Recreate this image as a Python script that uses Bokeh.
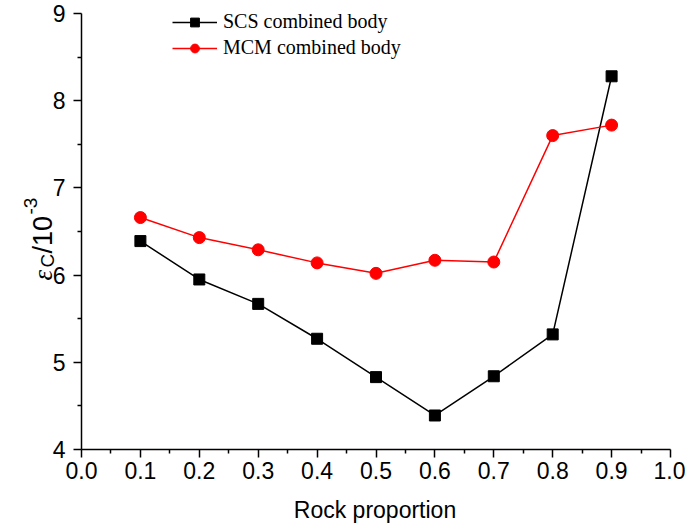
import math
from bokeh.plotting import figure
from bokeh.models import Range1d, FixedTicker, Legend, LegendItem, Label
from bokeh.embed import file_html
from bokeh.resources import INLINE

rock_proportion = [0.1, 0.2, 0.3, 0.4, 0.5, 0.6, 0.7, 0.8, 0.9]
scs_combined = [6.39, 5.95, 5.67, 5.27, 4.83, 4.39, 4.84, 5.32, 8.28]
mcm_combined = [6.66, 6.43, 6.29, 6.14, 6.02, 6.17, 6.15, 7.60, 7.72]

x_ticks = [0.0, 0.1, 0.2, 0.3, 0.4, 0.5, 0.6, 0.7, 0.8, 0.9, 1.0]
x_tick_labels = ["0.0", "0.1", "0.2", "0.3", "0.4", "0.5", "0.6", "0.7", "0.8", "0.9", "1.0"]
x_minor = [0.05, 0.15, 0.25, 0.35, 0.45, 0.55, 0.65, 0.75, 0.85, 0.95]
y_ticks = [4, 5, 6, 7, 8, 9]
y_tick_labels = ["4", "5", "6", "7", "8", "9"]
y_minor = [4.5, 5.5, 6.5, 7.5, 8.5]

series_names = ["SCS combined body", "MCM combined body"]
x_title = "Rock proportion"

W, H = 685, 525
AX_L, AX_R, AX_T, AX_B = 81, 670, 13, 449   # where x=0..1 and y=4..9 sit, in pixels
px_x = (AX_R - AX_L) / 1.0
px_y = (AX_B - AX_T) / 5.0

# the frame covers the whole canvas so that every text can live inside it
p = figure(width=W, height=H, output_backend="svg", toolbar_location=None,
           x_range=Range1d(-AX_L / px_x, 1.0 + (W - AX_R) / px_x),
           y_range=Range1d(4 - (H - AX_B) / px_y, 9 + AX_T / px_y),
           min_border_left=0, min_border_right=0,
           min_border_top=0, min_border_bottom=0)
p.outline_line_color = None
p.grid.visible = False
p.background_fill_color = "white"
p.border_fill_color = "white"

p.yaxis.fixed_location = 0
p.xaxis.fixed_location = 4
p.xaxis.bounds = (0, 1.0)
p.yaxis.bounds = (4, 9)

p.xaxis.ticker = FixedTicker(ticks=x_ticks, minor_ticks=x_minor)
p.yaxis.ticker = FixedTicker(ticks=y_ticks, minor_ticks=y_minor)
p.xaxis.major_label_overrides = {t: l for t, l in zip(x_ticks, x_tick_labels)}
p.yaxis.major_label_overrides = {t: l for t, l in zip(y_ticks, y_tick_labels)}

for ax in (p.xaxis[0], p.yaxis[0]):
    ax.axis_line_color = "black"
    ax.axis_line_width = 1.5
    ax.major_tick_line_color = "black"
    ax.major_tick_line_width = 1.5
    ax.minor_tick_line_color = "black"
    ax.minor_tick_line_width = 1.5
    ax.major_tick_in = 0
    ax.major_tick_out = 8
    ax.minor_tick_in = 0
    ax.minor_tick_out = 4
    ax.major_label_text_font = "Liberation Sans"
    ax.major_label_text_font_size = "23px"
    ax.major_label_text_color = "black"

p.xaxis.major_label_standoff = 4
p.yaxis.major_label_standoff = 8

l1 = p.line(rock_proportion, scs_combined, line_color="black", line_width=1.5)
s1 = p.scatter(rock_proportion, scs_combined, marker="square", size=11,
               fill_color="black", line_color="black")
l2 = p.line(rock_proportion, mcm_combined, line_color="#ff0000", line_width=1.5)
s2 = p.scatter(rock_proportion, mcm_combined, marker="circle", size=12,
               fill_color="#ff0000", line_color="#ff0000")

legend = Legend(items=[LegendItem(label=series_names[0], renderers=[l1, s1]),
                       LegendItem(label=series_names[1], renderers=[l2, s2])],
                location=(172, H - 59), orientation="vertical",
                border_line_color=None, background_fill_alpha=0,
                padding=0, margin=0, spacing=3,
                glyph_width=45, glyph_height=22, label_height=22, label_standoff=6,
                label_text_font="Liberation Serif", label_text_font_size="20px",
                label_text_color="black")
p.add_layout(legend)

# x-axis title (screen units measured from the canvas bottom-left)
p.add_layout(Label(x=(AX_L + AX_R) / 2 - 1, y=16, x_units="screen", y_units="screen",
                   text=x_title, text_font="Liberation Sans", text_font_size="23px",
                   text_color="black", text_align="center", text_baseline="alphabetic"))

# y-axis title: epsilon_C / 10^-3, built from rotated pieces
base_x = 42          # baseline x in canvas pixels
start_y = 280        # bottom end of the title in canvas pixels (from top)
pieces = [
    ("\u03b5", "Liberation Serif", "italic", "27px", 0, 0),
    ("C", "Liberation Sans", "normal", "19px", 5, 13),
    ("/10", "Liberation Sans", "normal", "27px", 0, 27),
    ("-3", "Liberation Sans", "normal", "19px", -12, 66),
]
for txt, font, style, size, dx, dy in pieces:
    p.add_layout(Label(x=base_x + dx, y=H - start_y + dy,
                       x_units="screen", y_units="screen",
                       text=txt, angle=math.pi / 2,
                       text_font=font, text_font_style=style, text_font_size=size,
                       text_color="black", text_align="left", text_baseline="alphabetic"))

open("out.html", "w").write(file_html(p, INLINE))
